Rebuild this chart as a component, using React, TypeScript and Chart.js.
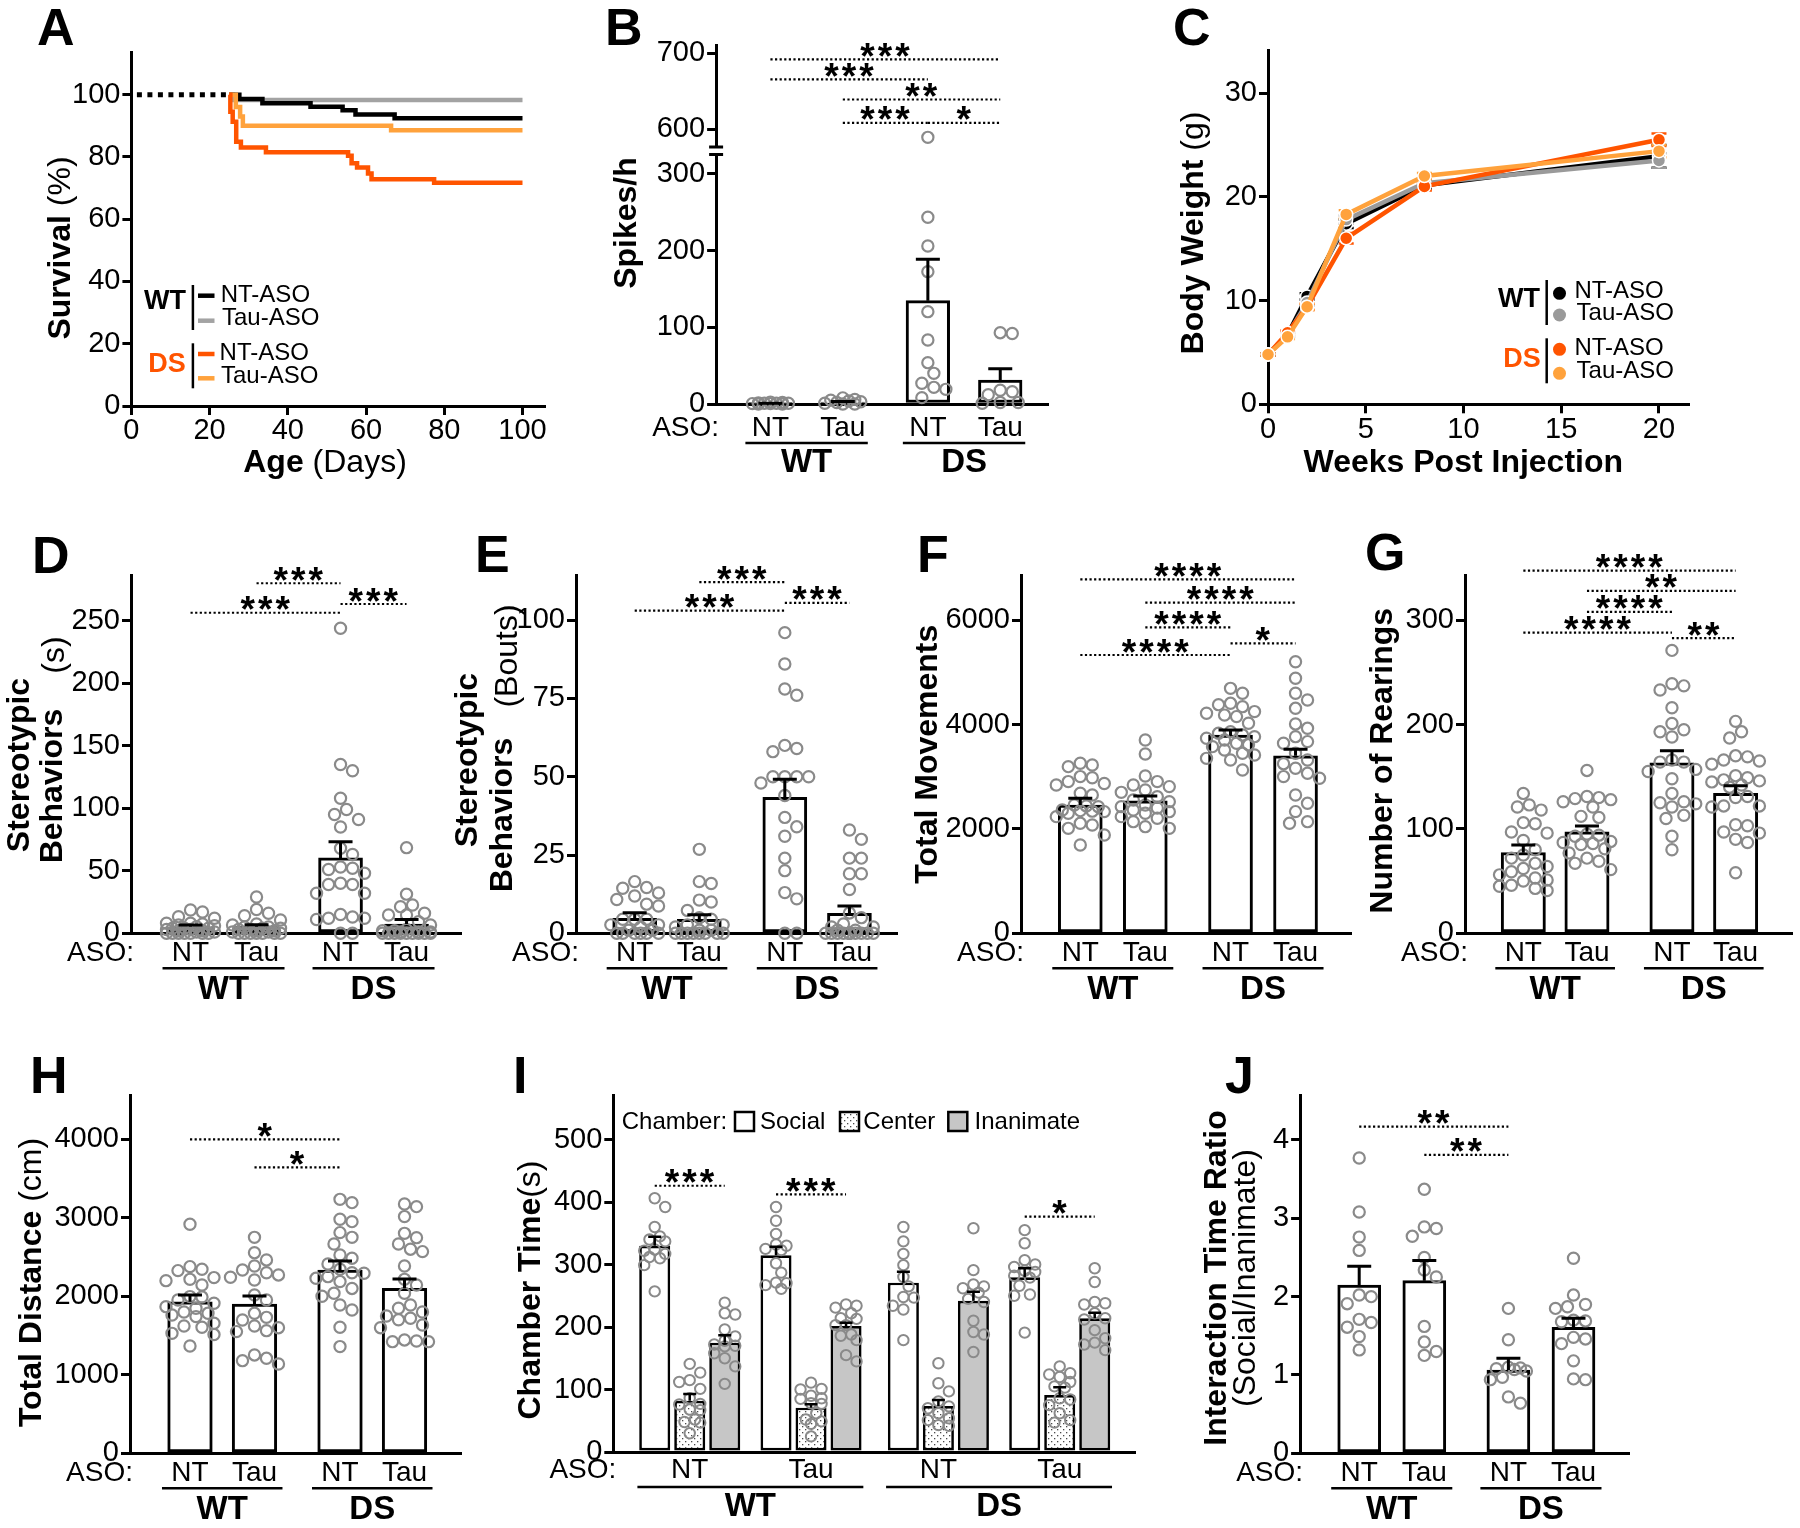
import React, { useEffect, useRef } from 'react';
import { Chart, registerables } from 'chart.js';

Chart.register(...registerables);

const FONT = '"Liberation Sans", Arial, Helvetica, sans-serif';
const BLK = '#000000';
const PT_GRAY = '#8a8a8a';
const COL_WT_NT = '#000000';
const COL_WT_TAU = '#a3a3a3';
const COL_DS_NT = '#ff5400';
const COL_DS_TAU = '#ffa23c';
const INAN_FILL = '#c6c6c6';
const TICK_PX = 29;
const LABEL_PX = 28;
const GROUP_PX = 33;
const TITLE_PX = 32;
const LEGEND_PX = 24;
const LETTER_PX = 52;

// ======================= DATA =======================
const ASO_LABELS = ['NT', 'Tau', 'NT', 'Tau'];
const GENOTYPES = ['WT', 'DS'];
const LEGEND_ENTRIES = ['NT-ASO', 'Tau-ASO'];
const CHAMBERS = ['Social', 'Center', 'Inanimate'];

// ---- A: survival (Kaplan-Meier) ----
const A_LEAD_DAYS = [0, 25];
const A_LEAD_SURV = [100, 100];
const A_WT_NT_DAYS = [25, 27.6, 33.5, 45.8, 54.0, 57.3, 67.3, 100];
const A_WT_NT_SURV = [100, 98.6, 97.2, 96.1, 95.0, 93.6, 92.4, 92.4];
const A_WT_TAU_DAYS = [25, 26.0, 100];
const A_WT_TAU_SURV = [100, 98.3, 98.3];
const A_DS_NT_DAYS = [25, 25.3, 25.9, 26.8, 28.0, 34.4, 55.4, 56.3, 57.7, 60.5, 61.4, 77.4, 100];
const A_DS_NT_SURV = [100, 94.5, 91.3, 84.9, 83.0, 81.5, 80.4, 78.0, 76.6, 74.7, 72.8, 71.7, 71.7];
const A_DS_TAU_DAYS = [25, 26.7, 27.8, 28.5, 66.4, 100];
const A_DS_TAU_SURV = [100, 96.0, 93.0, 90.0, 88.6, 88.6];
const A_X_TICKS = [0, 20, 40, 60, 80, 100];
const A_Y_TICKS = [0, 20, 40, 60, 80, 100];

// ---- B: spikes/h ----
const B_MEAN = [0.6, 2.5, 134.8, 31.3];
const B_SEM = [0.3, 0.8, 53.9, 14.7];
const B_PTS = [
  [0, 0.5, 1, 1.5, 2, 0, 1, 0.5, 2.5, 1],
  [8, 5, 3, 6, 2, 0, 1, 4, 0],
  [589, 243.5, 206, 172.6, 120.4, 83.5, 53.9, 40, 27, 21.7, 19.1, 8.3],
  [93, 92, 18, 16, 12, 2, 2, 1],
];
const B_TICKS_LOW = [0, 100, 200, 300];
const B_TICKS_HIGH = [600, 700];
const B_SIG = [[0, 3, 692, '***'], [0, 2, 665.5, '***'], [1, 3, 639, '**'], [1, 2, 608, '***'], [2, 3, 608, '*']];

// ---- C: body weight ----
const C_WEEKS = [0, 1, 2, 4, 8, 20];
const C_WT_NT = [4.8, 6.7, 10.4, 17.4, 21.1, 23.9];
const C_WT_TAU = [4.8, 6.7, 9.8, 17.8, 21.3, 23.5];
const C_DS_NT = [4.8, 6.9, 9.4, 16.0, 21.0, 25.5];
const C_DS_TAU = [4.8, 6.5, 9.4, 18.3, 22.0, 24.4];
const C_WT_NT_SEM = [0.1, 0.2, 0.3, 0.4, 0.3, 1.1];
const C_WT_TAU_SEM = [0.1, 0.2, 0.3, 0.4, 0.3, 0.7];
const C_DS_NT_SEM = [0.1, 0.2, 0.3, 0.5, 0.4, 0.6];
const C_DS_TAU_SEM = [0.1, 0.2, 0.3, 0.4, 0.3, 0.6];
const C_X_TICKS = [0, 5, 10, 15, 20];
const C_Y_TICKS = [0, 10, 20, 30];

// ---- D: stereotypic behaviors (s) ----
const D_MEAN = [5.2, 5.3, 60.3, 7.4];
const D_SEM = [1.4, 1.5, 13, 3.6];
const D_PTS = [
  [18.6, 17, 13.3, 12, 8, 7.5, 8, 6.6, 5.3, 4, 4, 4, 6, 3, 2, 1, 0, 0, 0, 0, 0, 0, 0, 1, 2, 3],
  [29, 19, 16, 14, 10.6, 7.5, 6.6, 5, 5, 4, 4, 3, 3, 2, 2, 1, 1, 0, 0, 0, 0, 0, 0, 0],
  [244, 135, 130, 108, 99, 95, 91, 85, 68, 63, 51, 52, 53, 48, 39, 39, 40, 32, 32, 12, 15, 13, 12, 11, 0, 0],
  [68.5, 31.3, 22.6, 21.3, 16, 14.6, 14.6, 9.3, 6.6, 3, 2, 2, 1, 1, 1, 0, 0, 0, 0, 0, 0, 0, 0, 0],
];
const D_TICKS = [0, 50, 100, 150, 200, 250];
const D_SIG = [[1, 2, 280, '***'], [0, 2, 256.4, '***'], [2, 3, 263.4, '***']];

// ---- E: stereotypic behaviors (bouts) ----
const E_MEAN = [4.8, 4.5, 43.4, 6.4];
const E_SEM = [1.8, 1.4, 5.8, 2.3];
const E_PTS = [
  [16.5, 14.6, 14.4, 12.9, 11.9, 10.8, 9.3, 8.7, 4.5, 4.5, 4.5, 2.7, 2.7, 2, 1, 1, 0, 0, 0, 0, 0, 0],
  [26.8, 16.5, 15.9, 10.6, 10, 7.3, 5, 4.5, 2.7, 2.7, 2, 1, 1, 0, 0, 0, 0, 0, 0, 0, 0],
  [96, 86, 78, 76, 60, 59, 58, 50, 50, 50, 50, 48, 44, 37, 34, 31, 24, 20, 13, 11, 0, 0],
  [33, 30, 24, 24, 19, 19, 14, 6.5, 5, 3, 2, 2, 1, 1, 0, 0, 0, 0, 0, 0, 0, 0, 0, 0, 0, 0],
];
const E_TICKS = [0, 25, 50, 75, 100];
const E_SIG = [[1, 2, 112.1, '***'], [0, 2, 103, '***'], [2, 3, 105.5, '***']];

// ---- F: total movements ----
const F_MEAN = [2458, 2540, 3799, 3402];
const F_SEM = [128, 90, 96, 123];
const F_PTS = [
  [3257, 3225, 3193, 3002, 2980, 2906, 2870, 2842, 2682, 2650, 2458, 2440, 2426, 2363, 2350, 2340, 2331, 2299, 2235, 2107, 2075, 2011, 1884, 1692],
  [3703, 3435, 3013, 2906, 2842, 2810, 2746, 2700, 2618, 2554, 2522, 2458, 2426, 2400, 2363, 2330, 2299, 2235, 2203, 2139, 2043, 2011],
  [4693, 4598, 4406, 4380, 4342, 4247, 4215, 4180, 4151, 4023, 3863, 3831, 3800, 3767, 3736, 3704, 3640, 3610, 3576, 3512, 3448, 3416, 3352, 3320, 3129],
  [5203, 4885, 4598, 4470, 4310, 4011, 3927, 3767, 3672, 3640, 3448, 3320, 3250, 3161, 3065, 3002, 2970, 2650, 2490, 2331, 2139, 2107],
];
const F_TICKS = [0, 2000, 4000, 6000];
const F_SIG = [[0, 3, 6782, '****'], [1, 3, 6333, '****'], [1, 2, 5862, '****'], [0, 2, 5331, '****'], [2, 3, 5556, '*']];

// ---- G: number of rearings ----
const G_MEAN = [77.2, 97.3, 163.4, 134.1];
const G_SEM = [7.4, 5.5, 11.5, 7.3];
const G_PTS = [
  [134, 123, 121, 118, 106, 105, 97, 96, 89, 80, 75, 72, 67, 64, 62, 59, 56, 53, 51, 50, 46, 45, 43, 41],
  [156, 131, 130, 129, 128, 126, 121, 112, 111, 95, 94, 93, 88, 87, 86, 85, 81, 77, 72, 69, 67, 61],
  [271, 239, 237, 233, 216, 201, 195, 193, 188, 166, 164, 164, 157, 155, 148, 134, 126, 125, 124, 121, 113, 110, 93, 80],
  [203, 193, 187, 170, 169, 166, 165, 162, 151, 149, 147, 146, 145, 142, 140, 131, 130, 122, 122, 121, 104, 103, 97, 96, 90, 87, 58],
];
const G_TICKS = [0, 100, 200, 300];
const G_SIG = [[0, 3, 347.3, '****'], [1, 3, 327.9, '**'], [1, 2, 307.8, '****'], [0, 2, 288, '****'], [2, 3, 282.8, '**']];

// ---- H: total distance ----
const H_MEAN = [1931, 1902, 2335, 2102];
const H_SEM = [86, 102, 115, 118];
const H_PTS = [
  [2917, 2378, 2344, 2327, 2238, 2216, 2199, 2144, 1996, 1990, 1953, 1911, 1868, 1847, 1800, 1783, 1762, 1741, 1656, 1622, 1605, 1528, 1512, 1367],
  [2751, 2556, 2463, 2386, 2335, 2300, 2272, 2242, 2208, 2017, 1953, 1783, 1732, 1698, 1622, 1600, 1562, 1550, 1253, 1210, 1180, 1138],
  [3235, 3193, 2981, 2951, 2811, 2751, 2666, 2526, 2484, 2412, 2344, 2300, 2293, 2250, 2229, 2187, 2100, 2038, 2000, 1889, 1826, 1605, 1359],
  [3176, 3142, 3015, 2802, 2747, 2666, 2600, 2569, 2386, 2216, 2144, 2038, 1889, 1847, 1800, 1749, 1720, 1700, 1635, 1600, 1444, 1430, 1422, 1422],
];
const H_TICKS = [0, 1000, 2000, 3000, 4000];
const H_SIG = [[0, 2, 4000, '*'], [1, 2, 3643, '*']];

// ---- I: chamber time ----
const I_SOCIAL_MEAN = [330, 314.7, 271, 279.5];
const I_SOCIAL_SEM = [14.5, 13.8, 17.5, 14.5];
const I_CENTER_MEAN = [82, 71, 73.6, 91.2];
const I_CENTER_SEM = [10.8, 5.3, 9.6, 12.3];
const I_INAN_MEAN = [175, 201.6, 242, 214];
const I_INAN_SEM = [12, 5.4, 14.5, 9];
const I_SOCIAL_PTS = [
  [406, 392, 360, 345, 340, 337, 324, 322, 317, 312, 310, 299, 257],
  [392, 370, 349, 332, 330, 325, 323, 302, 287, 271, 270, 267, 261],
  [360, 337, 317, 299, 280, 265, 248, 247, 234, 228, 179],
  [355, 334, 307, 300, 296, 290, 288, 282, 279, 266, 252, 250, 191],
];
const I_CENTER_PTS = [
  [141, 127, 115, 112, 101, 86, 77, 76, 68, 67, 52, 48, 47, 30],
  [111, 101, 100, 90, 86, 85, 78, 77, 62, 52, 49, 45, 25],
  [142, 110, 97, 81, 73, 70, 62, 54, 51, 43, 42],
  [137, 126, 124, 120, 112, 105, 103, 86, 84, 75, 62, 51, 47],
];
const I_INAN_PTS = [
  [239, 222, 220, 196, 185, 178, 172, 170, 169, 158, 150, 137, 109],
  [236, 234, 231, 222, 214, 213, 203, 203, 188, 186, 179, 155, 145],
  [358, 291, 268, 265, 262, 255, 245, 240, 210, 192, 188, 160],
  [294, 272, 240, 238, 236, 222, 214, 212, 195, 182, 175, 172, 163],
];
const I_TICKS = [0, 100, 200, 300, 400, 500];
const I_SIG = [[0, 0, 0, 2, 426, '***'], [1, 0, 1, 2, 412.3, '***'], [3, 0, 3, 2, 376.5, '*']];

// ---- J: interaction time ratio ----
const J_MEAN = [2.149, 2.204, 1.063, 1.608];
const J_SEM = [0.24, 0.256, 0.15, 0.115];
const J_PTS = [
  [3.77, 3.08, 2.76, 2.59, 2.02, 2.0, 1.91, 1.71, 1.67, 1.61, 1.49, 1.32],
  [3.37, 2.89, 2.87, 2.77, 2.5, 2.34, 2.25, 1.62, 1.42, 1.3, 1.25],
  [1.85, 1.45, 1.1, 1.09, 1.08, 1.07, 1.05, 0.97, 0.94, 0.72, 0.64],
  [2.49, 2.02, 1.9, 1.87, 1.85, 1.7, 1.69, 1.68, 1.48, 1.46, 1.4, 1.18, 0.95, 0.94],
];
const J_TICKS = [0, 1, 2, 3, 4];
const J_SIG = [[0, 2, 4.17, '**'], [1, 2, 3.81, '**']];

// ======================= HELPERS =======================
const BASE_OPTS: any = {
  responsive: false,
  maintainAspectRatio: false,
  animation: false,
  devicePixelRatio: 1,
  events: [],
  plugins: { legend: { display: false }, tooltip: { enabled: false }, title: { display: false } },
};

const PT: any = {
  pointStyle: 'circle', pointRadius: 5.6, radius: 5.6, pointBorderWidth: 2.2, borderWidth: 2.2,
  pointBorderColor: PT_GRAY, borderColor: PT_GRAY, pointBackgroundColor: 'rgba(0,0,0,0)',
  backgroundColor: 'rgba(0,0,0,0)', showLine: false, clip: false,
};

function yAxis(min: number, max: number, ticks: number[], width: number, extra: any = {}) {
  return {
    type: 'linear', position: 'left', min, max, beginAtZero: false, offset: false,
    afterBuildTicks: (s: any) => { s.ticks = ticks.map((v) => ({ value: v })); },
    afterFit: (s: any) => { s.width = width; },
    grid: { display: true, drawOnChartArea: false, drawTicks: true, tickLength: 9, tickWidth: 3, tickColor: BLK, color: BLK, lineWidth: 3 },
    border: { display: true, width: 3, color: BLK },
    ticks: { color: BLK, font: { family: FONT, size: TICK_PX }, padding: 2, autoSkip: false, callback: (v: any) => String(v) },
    ...extra,
  };
}

function xBare(min: number, max: number, height: number) {
  return {
    type: 'linear', position: 'bottom', min, max, offset: false,
    afterBuildTicks: (s: any) => { s.ticks = []; },
    afterFit: (s: any) => { s.height = height; },
    grid: { display: false, drawTicks: false },
    border: { display: true, width: 3, color: BLK },
    ticks: { display: false },
  };
}

function xTicks(min: number, max: number, ticks: number[], height: number) {
  return {
    type: 'linear', position: 'bottom', min, max, offset: false,
    afterBuildTicks: (s: any) => { s.ticks = ticks.map((v) => ({ value: v })); },
    afterFit: (s: any) => { s.height = height; },
    grid: { display: true, drawOnChartArea: false, drawTicks: true, tickLength: 9, tickWidth: 3, tickColor: BLK, color: BLK, lineWidth: 3 },
    border: { display: true, width: 3, color: BLK },
    ticks: { color: BLK, font: { family: FONT, size: TICK_PX }, padding: -1, autoSkip: false, maxRotation: 0, callback: (v: any) => String(v) },
  };
}

function setFont(ctx: any, size: number, bold = false) {
  ctx.font = `${bold ? 'bold ' : ''}${size}px ${FONT}`;
}
function text(ctx: any, s: string, x: number, y: number, size: number, bold = false, align = 'center', color = BLK) {
  setFont(ctx, size, bold);
  ctx.fillStyle = color;
  ctx.textAlign = align;
  ctx.textBaseline = 'middle';
  ctx.fillText(s, x, y);
}
function rich(ctx: any, segs: any[], cx: number, cy: number, size: number, rotated: boolean) {
  ctx.save();
  ctx.translate(cx, cy);
  if (rotated) ctx.rotate(-Math.PI / 2);
  const widths = segs.map(([s, b]: any) => { setFont(ctx, size, b); return ctx.measureText(s).width; });
  let x = -widths.reduce((a: number, w: number) => a + w, 0) / 2;
  ctx.fillStyle = BLK;
  ctx.textAlign = 'left';
  ctx.textBaseline = 'middle';
  segs.forEach(([s, b]: any, i: number) => { setFont(ctx, size, b); ctx.fillText(s, x, 0); x += widths[i]; });
  ctx.restore();
}
function panelLetter(ctx: any, s: string, x: number, yBase: number) {
  setFont(ctx, LETTER_PX, true);
  ctx.fillStyle = BLK;
  ctx.textAlign = 'left';
  ctx.textBaseline = 'alphabetic';
  ctx.fillText(s, x, yBase);
}
function hline(ctx: any, x1: number, x2: number, y: number, w: number, color = BLK) {
  ctx.save();
  ctx.strokeStyle = color; ctx.lineWidth = w; ctx.setLineDash([]);
  ctx.beginPath(); ctx.moveTo(x1, y); ctx.lineTo(x2, y); ctx.stroke();
  ctx.restore();
}
function vline(ctx: any, x: number, y1: number, y2: number, w: number, color = BLK) {
  ctx.save();
  ctx.strokeStyle = color; ctx.lineWidth = w; ctx.setLineDash([]);
  ctx.beginPath(); ctx.moveTo(x, y1); ctx.lineTo(x, y2); ctx.stroke();
  ctx.restore();
}

// asterisk glyph sized to ~14px wide, centred 9px above the comparison line
let STAR_SIZE = 0;
function sigLine(ctx: any, x1: number, x2: number, y: number, stars: string) {
  ctx.save();
  ctx.strokeStyle = BLK; ctx.lineWidth = 2.2; ctx.setLineDash([2.2, 2.4]);
  ctx.beginPath(); ctx.moveTo(x1, y); ctx.lineTo(x2, y); ctx.stroke();
  ctx.restore();
  if (!STAR_SIZE) {
    setFont(ctx, 100, true);
    const m0 = ctx.measureText('*');
    const w0 = (m0.actualBoundingBoxRight || 0) + (m0.actualBoundingBoxLeft || 0);
    STAR_SIZE = w0 > 1 ? (100 * 14.5) / w0 : 40;
  }
  setFont(ctx, STAR_SIZE, true);
  const m = ctx.measureText('*');
  const asc = m.actualBoundingBoxAscent || STAR_SIZE * 0.72;
  const desc = m.actualBoundingBoxDescent || -STAR_SIZE * 0.42;
  const glyphCenterFromBase = (desc - asc) / 2;
  const hCenter = ((m.actualBoundingBoxRight || 0) - (m.actualBoundingBoxLeft || 0)) / 2;
  const baseY = y - 9.5 - glyphCenterFromBase;
  const n = stars.length, pitch = 17.5, cx = (x1 + x2) / 2;
  ctx.fillStyle = BLK; ctx.textAlign = 'left'; ctx.textBaseline = 'alphabetic';
  for (let k = 0; k < n; k++) ctx.fillText('*', cx + (k - (n - 1) / 2) * pitch - hCenter, baseY);
}
function errBars(chart: any, metaIdx: number, means: number[], sems: number[], yScale: any, capW: number, lw: number, color = BLK) {
  const ctx = chart.ctx;
  const meta = chart.getDatasetMeta(metaIdx);
  ctx.save();
  ctx.strokeStyle = color; ctx.lineWidth = lw; ctx.setLineDash([]);
  meta.data.forEach((el: any, i: number) => {
    const x = el.x;
    const y0 = yScale.getPixelForValue(means[i]);
    const y1 = yScale.getPixelForValue(means[i] + sems[i]);
    ctx.beginPath();
    ctx.moveTo(x, y0); ctx.lineTo(x, y1);
    ctx.moveTo(x - capW / 2, y1); ctx.lineTo(x + capW / 2, y1);
    ctx.stroke();
  });
  ctx.restore();
}

// simple beeswarm layout (pixel space) -> horizontal offsets in px
function swarm(vals: number[], pxPerY: number, diam: number, maxHalf: number): number[] {
  const order = vals.map((_, i) => i).sort((a, b) => vals[b] - vals[a]);
  const step = diam / 2;
  const cands: number[] = [0];
  for (let k = 1; k * step <= maxHalf + 0.01; k++) cands.push(k * step, -k * step);
  const placed: { x: number; y: number }[] = [];
  const out = new Array(vals.length).fill(0);
  for (const i of order) {
    const y = vals[i] * pxPerY;
    let best = 0, bestD = -1;
    for (const c of cands) {
      let dmin = Infinity;
      for (const p of placed) { const d = Math.hypot(p.x - c, p.y - y); if (d < dmin) dmin = d; }
      if (dmin >= diam) { best = c; bestD = dmin; break; }
      if (dmin > bestD + 0.01) { bestD = dmin; best = c; }
    }
    placed.push({ x: best, y });
    out[i] = best;
  }
  return out;
}

function makeDotPattern() {
  const tile = document.createElement('canvas');
  tile.width = 6; tile.height = 6;
  const g = tile.getContext('2d') as any;
  g.fillStyle = '#ffffff'; g.fillRect(0, 0, 6, 6);
  g.fillStyle = '#4a4a4a';
  g.fillRect(1, 1, 1.3, 1.3);
  g.fillRect(4, 4, 1.3, 1.3);
  const c2 = document.createElement('canvas').getContext('2d') as any;
  return c2.createPattern(tile, 'repeat');
}

function pads(canvas: number[], plot: number[]) {
  const [cl, ct, cr, cb] = canvas;
  const [pl, pt, pr, pb] = plot;
  return { L: pl - cl, T: pt - ct, R: cr - pr, B: cb - pb };
}

// ======================= LAYOUT (style) =======================
const BAR_PANELS: any = {
  B: {
    letter: ['B', 605, 45], canvas: [560, 0, 1120, 500], plot: [716.1, 45, 1048.9, 404],
    pos: [0, 1, 2.175, 3.175], xMin: -0.75, xMax: 3.847, barW: 43.6, spread: 23,
    yMax: 326, yTicks: B_TICKS_LOW,
    split: { lowMax: 326, hiMin: 567, hiMax: 711, hiTicks: B_TICKS_HIGH, wLow: 250, wHigh: 109 },
    means: B_MEAN, sems: B_SEM, pts: B_PTS, sig: B_SIG,
    row: { aso: 24, line: 39, grp: 59, ext: 25 },
    titles: [{ segs: [['Spikes/h', true]], x: 627.5, y: 223, rot: true }],
  },
  D: {
    letter: ['D', 32, 573], canvas: [0, 515, 470, 1025], plot: [131, 575, 461.7, 933.3],
    pos: [0, 1, 2.273, 3.273], xMin: -0.902, xMax: 4.109, barW: 44, spread: 28,
    yMax: 286.6, yTicks: D_TICKS, means: D_MEAN, sems: D_SEM, pts: D_PTS, sig: D_SIG,
    row: { aso: 20, line: 35, grp: 57, ext: 28 },
    titles: [
      { segs: [['Stereotypic', true]], x: 20, y: 765, rot: true },
      { segs: [['Behaviors', true]], x: 53, y: 786, rot: true },
      { segs: [['(s)', false]], x: 55, y: 655, rot: true },
    ],
  },
  E: {
    letter: ['E', 475, 572], canvas: [440, 515, 905, 1025], plot: [576, 575, 899, 933.3],
    pos: [0, 1, 2.323, 3.323], xMin: -0.908, xMax: 4.062, barW: 44, spread: 28,
    yMax: 114.4, yTicks: E_TICKS, means: E_MEAN, sems: E_SEM, pts: E_PTS, sig: E_SIG,
    row: { aso: 20, line: 35, grp: 57, ext: 28 },
    titles: [
      { segs: [['Stereotypic', true]], x: 468.3, y: 760, rot: true },
      { segs: [['Behaviors', true]], x: 503.3, y: 815, rot: true },
      { segs: [['(Bouts)', false]], x: 508.3, y: 656, rot: true },
    ],
  },
  F: {
    letter: ['F', 917, 572], canvas: [900, 515, 1360, 1025], plot: [1021, 575, 1351.7, 933.3],
    pos: [0, 1, 2.311, 3.311], xMin: -0.912, xMax: 4.175, barW: 44, spread: 28,
    yMax: 6864, yTicks: F_TICKS, means: F_MEAN, sems: F_SEM, pts: F_PTS, sig: F_SIG,
    row: { aso: 20, line: 35, grp: 57, ext: 28 },
    titles: [{ segs: [['Total Movements', true]], x: 928.3, y: 754.2, rot: true }],
  },
  G: {
    letter: ['G', 1365, 570], canvas: [1355, 515, 1800, 1025], plot: [1465, 575, 1795, 933.3],
    pos: [0, 1, 2.335, 3.335], xMin: -0.916, xMax: 4.224, barW: 44.3, spread: 28,
    yMax: 343.2, yTicks: G_TICKS, means: G_MEAN, sems: G_SEM, pts: G_PTS, sig: G_SIG,
    row: { aso: 20, line: 35, grp: 57, ext: 28 },
    titles: [{ segs: [['Number of Rearings', true]], x: 1383.3, y: 760.8, rot: true }],
  },
  H: {
    letter: ['H', 30, 1093], canvas: [0, 1035, 500, 1528], plot: [130, 1095, 461, 1453.3],
    pos: [0, 1, 2.326, 3.326], xMin: -0.93, xMax: 4.202, barW: 44.6, spread: 28,
    yMax: 4564, yTicks: H_TICKS, means: H_MEAN, sems: H_SEM, pts: H_PTS, sig: H_SIG,
    row: { aso: 20, line: 35, grp: 57, ext: 28 },
    titles: [{ segs: [['Total Distance', true], [' (cm)', false]], x: 31.7, y: 1282.5, rot: true }],
  },
  J: {
    letter: ['J', 1225, 1093], canvas: [1190, 1035, 1800, 1528], plot: [1300.1, 1095, 1629.6, 1453.3],
    pos: [0, 1, 2.292, 3.292], xMin: -0.908, xMax: 4.154, barW: 43, spread: 21,
    yMax: 4.574, yTicks: J_TICKS, means: J_MEAN, sems: J_SEM, pts: J_PTS, sig: J_SIG,
    row: { aso: 20, line: 35, grp: 57, ext: 28 },
    titles: [
      { segs: [['Interaction Time Ratio', true]], x: 1217, y: 1278, rot: true },
      { segs: [['(Social/Inanimate)', false]], x: 1246.4, y: 1278, rot: true },
    ],
  },
};

const GEOM_A = { canvas: [0, 0, 560, 500], plot: [131.4, 52, 544.6, 406] };
const GEOM_C = { canvas: [1130, 0, 1800, 500], plot: [1268, 50.7, 1688.5, 404.3] };
const GEOM_I = { canvas: [495, 1035, 1190, 1528], plot: [613.3, 1095, 1135.4, 1452], pos: [0, 1, 2.05, 3.05], xMin: -0.63, xMax: 3.674, yMax: 571.2 };

// ======================= BUILDERS =======================
function drawAsoRow(ctx: any, plotLeft: number, axisY: number, labelXs: number[], spans: number[][], row: any) {
  text(ctx, 'ASO:', plotLeft + 3, axisY + row.aso, LABEL_PX, false, 'right');
  labelXs.forEach((x, i) => text(ctx, ASO_LABELS[i], x, axisY + row.aso, LABEL_PX));
  spans.forEach(([x1, x2], g) => {
    hline(ctx, x1, x2, axisY + row.line, 2.5);
    text(ctx, GENOTYPES[g], (x1 + x2) / 2, axisY + row.grp, GROUP_PX, true);
  });
}

function makeBarChart(cfg: any, ox: number, oy: number) {
  const { L, T, R, B } = pads(cfg.canvas, cfg.plot);
  const [pl, pt, pr, pb] = cfg.plot;
  const pxX = (pr - pl) / (cfg.xMax - cfg.xMin);
  const pxY = cfg.split
    ? ((pb - pt) * cfg.split.wLow) / (cfg.split.wLow + cfg.split.wHigh) / cfg.split.lowMax
    : (pb - pt) / cfg.yMax;
  const low: any[] = [];
  const high: any[] = [];
  cfg.pts.forEach((vals: number[], i: number) => {
    const off = swarm(vals, pxY, 12, cfg.spread);
    vals.forEach((v, k) => {
      const p = { x: cfg.pos[i] + off[k] / pxX, y: v };
      if (cfg.split && v > cfg.split.lowMax) high.push(p);
      else low.push(p);
    });
  });
  const datasets: any[] = [
    {
      type: 'bar', data: cfg.means.map((m: number, i: number) => ({ x: cfg.pos[i], y: m })),
      backgroundColor: '#ffffff', borderColor: BLK, borderWidth: 3, borderSkipped: false,
      barThickness: cfg.barW, order: 3, yAxisID: 'y',
    },
    { type: 'scatter', data: low, ...PT, order: 1, yAxisID: 'y' },
  ];
  const scales: any = { x: xBare(cfg.xMin, cfg.xMax, B), y: yAxis(0, cfg.yMax, cfg.yTicks, L) };
  if (cfg.split) {
    datasets.push({ type: 'scatter', data: high, ...PT, order: 0, yAxisID: 'y2' });
    scales.y = yAxis(0, cfg.split.lowMax, cfg.yTicks, L, { stack: 'brk', stackWeight: cfg.split.wLow });
    scales.y2 = yAxis(cfg.split.hiMin, cfg.split.hiMax, cfg.split.hiTicks, L, { stack: 'brk', stackWeight: cfg.split.wHigh });
  }
  return {
    type: 'bar',
    data: { datasets },
    options: { ...BASE_OPTS, layout: { padding: { left: 0, top: T, right: R, bottom: 0 } }, scales },
    plugins: [
      {
        id: 'barAnnot',
        afterDatasetsDraw(chart: any) {
          errBars(chart, 0, cfg.means, cfg.sems, chart.scales.y, 24, 3);
        },
        afterDraw(chart: any) {
          const ctx = chart.ctx;
          const meta = chart.getDatasetMeta(0);
          const cx = meta.data.map((el: any) => el.x + ox);
          const sigScale = cfg.split ? chart.scales.y2 : chart.scales.y;
          ctx.save();
          ctx.translate(-ox, -oy);
          if (cfg.split) {
            const ys = chart.scales.y;
            const ax = ys.right + ox;
            const yb = ys.top + oy;
            ctx.fillStyle = '#ffffff';
            ctx.fillRect(ax - 3, yb - 6, 6, 5.5);
            hline(ctx, ax - 7, ax + 7, yb - 7, 3);
            hline(ctx, ax - 7, ax + 7, yb + 0.5, 3);
          }
          cfg.sig.forEach(([a, b, yv, st]: any) => {
            sigLine(ctx, cx[a], cx[b], sigScale.getPixelForValue(yv) + oy, st);
          });
          const axisY = chart.chartArea.bottom + oy;
          const ext = cfg.row.ext;
          drawAsoRow(ctx, chart.chartArea.left + ox, axisY, cx, [[cx[0] - ext, cx[1] + ext], [cx[2] - ext, cx[3] + ext]], cfg.row);
          cfg.titles.forEach((t: any) => rich(ctx, t.segs, t.x, t.y, TITLE_PX, t.rot));
          panelLetter(ctx, cfg.letter[0], cfg.letter[1], cfg.letter[2]);
          ctx.restore();
        },
      },
    ],
  };
}

function makeA(ox: number, oy: number) {
  const { L, T, R, B } = pads(GEOM_A.canvas, GEOM_A.plot);
  const mk = (xs: number[], ys: number[]) => xs.map((x, i) => ({ x, y: ys[i] }));
  const line = (data: any, color: string, order: number, extra: any = {}) => ({
    data, borderColor: color, backgroundColor: color, borderWidth: 4.5, pointRadius: 0,
    stepped: true, fill: false, order, borderCapStyle: 'butt', borderJoinStyle: 'miter', ...extra,
  });
  return {
    type: 'line',
    data: {
      datasets: [
        line(mk(A_DS_NT_DAYS, A_DS_NT_SURV), COL_DS_NT, 0),
        line(mk(A_DS_TAU_DAYS, A_DS_TAU_SURV), COL_DS_TAU, 1),
        line(mk(A_WT_NT_DAYS, A_WT_NT_SURV), COL_WT_NT, 2),
        line(mk(A_WT_TAU_DAYS, A_WT_TAU_SURV), COL_WT_TAU, 3),
        line(mk(A_LEAD_DAYS, A_LEAD_SURV), BLK, 4, { stepped: false, borderDash: [5, 5.5], borderDashOffset: 5, borderWidth: 5 }),
      ],
    },
    options: {
      ...BASE_OPTS,
      layout: { padding: { left: 0, top: T, right: R, bottom: 0 } },
      scales: { x: xTicks(0, 105.65, A_X_TICKS, B), y: yAxis(0, 113.7, A_Y_TICKS, L) },
    },
    plugins: [
      {
        id: 'annA',
        afterDraw(chart: any) {
          const ctx = chart.ctx;
          ctx.save();
          ctx.translate(-ox, -oy);
          rich(ctx, [['Survival', true], [' (%)', false]], 60.7, 248, TITLE_PX, true);
          rich(ctx, [['Age', true], [' (Days)', false]], 325, 463, TITLE_PX, false);
          // legend
          text(ctx, GENOTYPES[0], 165, 301.7, 27, true);
          vline(ctx, 192.9, 285, 330, 2.5);
          hline(ctx, 198, 214.5, 295.7, 4.5, COL_WT_NT);
          hline(ctx, 198, 214.5, 320.7, 4.5, COL_WT_TAU);
          text(ctx, LEGEND_ENTRIES[0], 220.7, 295, LEGEND_PX, false, 'left');
          text(ctx, LEGEND_ENTRIES[1], 222, 318.3, LEGEND_PX, false, 'left');
          text(ctx, GENOTYPES[1], 167, 365, 27, true, 'center', COL_DS_NT);
          vline(ctx, 192.9, 343.3, 388.3, 2.5);
          hline(ctx, 198, 214.5, 354, 4.5, COL_DS_NT);
          hline(ctx, 198, 214.5, 378.3, 4.5, COL_DS_TAU);
          text(ctx, LEGEND_ENTRIES[0], 219.6, 353.3, LEGEND_PX, false, 'left');
          text(ctx, LEGEND_ENTRIES[1], 221, 376.7, LEGEND_PX, false, 'left');
          panelLetter(ctx, 'A', 37, 45);
          ctx.restore();
        },
      },
    ],
  };
}

function makeC(ox: number, oy: number) {
  const { L, T, R, B } = pads(GEOM_C.canvas, GEOM_C.plot);
  const series = [
    { vals: C_DS_TAU, sem: C_DS_TAU_SEM, color: COL_DS_TAU },
    { vals: C_DS_NT, sem: C_DS_NT_SEM, color: COL_DS_NT },
    { vals: C_WT_TAU, sem: C_WT_TAU_SEM, color: '#9a9a9a' },
    { vals: C_WT_NT, sem: C_WT_NT_SEM, color: COL_WT_NT },
  ];
  return {
    type: 'line',
    data: {
      datasets: series.map((s, k) => ({
        data: C_WEEKS.map((w, i) => ({ x: w, y: s.vals[i] })),
        borderColor: s.color, backgroundColor: s.color, pointBackgroundColor: s.color,
        pointBorderColor: '#ffffff', pointBorderWidth: 1.5, pointRadius: 6.5, borderWidth: 4.5,
        order: k, fill: false, tension: 0, clip: false,
      })),
    },
    options: {
      ...BASE_OPTS,
      layout: { padding: { left: 0, top: T, right: R, bottom: 0 } },
      scales: { x: xTicks(0, 21.51, C_X_TICKS, B), y: yAxis(0, 34.08, C_Y_TICKS, L) },
    },
    plugins: [
      {
        id: 'annC',
        beforeDatasetsDraw(chart: any) {
          const ctx = chart.ctx;
          const xs = chart.scales.x, ys = chart.scales.y;
          ctx.save();
          [...series].reverse().forEach((s) => {
            ctx.strokeStyle = s.color; ctx.lineWidth = 2.5;
            C_WEEKS.forEach((w, i) => {
              const x = xs.getPixelForValue(w);
              const y1 = ys.getPixelForValue(s.vals[i] - s.sem[i]);
              const y2 = ys.getPixelForValue(s.vals[i] + s.sem[i]);
              ctx.beginPath();
              ctx.moveTo(x, y1); ctx.lineTo(x, y2);
              ctx.moveTo(x - 7.5, y1); ctx.lineTo(x + 7.5, y1);
              ctx.moveTo(x - 7.5, y2); ctx.lineTo(x + 7.5, y2);
              ctx.stroke();
            });
          });
          ctx.restore();
        },
        afterDraw(chart: any) {
          const ctx = chart.ctx;
          ctx.save();
          ctx.translate(-ox, -oy);
          rich(ctx, [['Body Weight', true], [' (g)', false]], 1194, 233, TITLE_PX, true);
          rich(ctx, [['Weeks Post Injection', true]], 1463.3, 463, TITLE_PX, false);
          const dot = (x: number, y: number, c: string) => {
            ctx.beginPath(); ctx.arc(x, y, 6.5, 0, Math.PI * 2); ctx.fillStyle = c; ctx.fill();
          };
          text(ctx, GENOTYPES[0], 1519, 300, 27, true);
          vline(ctx, 1546.7, 280, 325, 2.5);
          dot(1559.5, 293.3, COL_WT_NT);
          dot(1559.5, 315, '#9a9a9a');
          text(ctx, LEGEND_ENTRIES[0], 1574.4, 291.7, LEGEND_PX, false, 'left');
          text(ctx, LEGEND_ENTRIES[1], 1576.6, 313.3, LEGEND_PX, false, 'left');
          text(ctx, GENOTYPES[1], 1522, 360, 27, true, 'center', COL_DS_NT);
          vline(ctx, 1546.7, 338.3, 383.3, 2.5);
          dot(1559.5, 349.3, COL_DS_NT);
          dot(1559.5, 373.3, COL_DS_TAU);
          text(ctx, LEGEND_ENTRIES[0], 1574.4, 348.3, LEGEND_PX, false, 'left');
          text(ctx, LEGEND_ENTRIES[1], 1576.6, 371.7, LEGEND_PX, false, 'left');
          panelLetter(ctx, 'C', 1173, 45);
          ctx.restore();
        },
      },
    ],
  };
}

function makeI(ox: number, oy: number) {
  const g = GEOM_I;
  const { L, T, R, B } = pads(g.canvas, g.plot);
  const [pl, pt, pr, pb] = g.plot;
  const pxX = (pr - pl) / (g.xMax - g.xMin);
  const pxY = (pb - pt) / g.yMax;
  const catPct = 0.866, barPct = 0.886;
  const slot = catPct / 3;
  const pattern = makeDotPattern();
  const fills = ['#ffffff', pattern, INAN_FILL];
  const means = [I_SOCIAL_MEAN, I_CENTER_MEAN, I_INAN_MEAN];
  const sems = [I_SOCIAL_SEM, I_CENTER_SEM, I_INAN_SEM];
  const pts = [I_SOCIAL_PTS, I_CENTER_PTS, I_INAN_PTS];
  const datasets: any[] = means.map((m, k) => ({
    type: 'bar', label: CHAMBERS[k], data: m.map((v, i) => ({ x: g.pos[i], y: v })),
    backgroundColor: fills[k], borderColor: BLK, borderWidth: 2.7, borderSkipped: false,
    categoryPercentage: catPct, barPercentage: barPct, order: 5,
  }));
  pts.forEach((grp, k) => {
    const data: any[] = [];
    grp.forEach((vals, i) => {
      const off = swarm(vals, pxY, 10.5, 14);
      vals.forEach((v, j) => data.push({ x: g.pos[i] + (k - 1) * slot + off[j] / pxX, y: v }));
    });
    datasets.push({ type: 'scatter', data, ...PT, pointRadius: 5.2, radius: 5.2, pointBorderWidth: 2, borderWidth: 2, order: 1 });
  });
  return {
    type: 'bar',
    data: { datasets },
    options: {
      ...BASE_OPTS,
      layout: { padding: { left: 0, top: T, right: R, bottom: 0 } },
      scales: { x: xBare(g.xMin, g.xMax, B), y: yAxis(0, g.yMax, I_TICKS, L) },
    },
    plugins: [
      {
        id: 'annI',
        afterDatasetsDraw(chart: any) {
          for (let k = 0; k < 3; k++) errBars(chart, k, means[k], sems[k], chart.scales.y, 13, 2.5);
        },
        afterDraw(chart: any) {
          const ctx = chart.ctx;
          const bx = [0, 1, 2].map((k) => chart.getDatasetMeta(k).data.map((el: any) => el.x + ox));
          const ys = chart.scales.y;
          ctx.save();
          ctx.translate(-ox, -oy);
          I_SIG.forEach(([g1, c1, g2, c2, yv, st]: any) => {
            sigLine(ctx, bx[c1][g1], bx[c2][g2], ys.getPixelForValue(yv) + oy, st);
          });
          const axisY = chart.chartArea.bottom + oy;
          const ext = 17.3;
          drawAsoRow(ctx, chart.chartArea.left + ox, axisY, bx[1],
            [[bx[0][0] - ext, bx[2][1] + ext], [bx[0][2] - ext, bx[2][3] + ext]],
            { aso: 18, line: 35, grp: 55 });
          // legend
          text(ctx, 'Chamber:', 621.7, 1122.3, LEGEND_PX, false, 'left');
          const boxes = [[735, 760], [840, 863.3], [948.3, 974.6]];
          boxes.forEach(([bxp, tx], k) => {
            ctx.fillStyle = fills[k];
            ctx.fillRect(bxp, 1112, 19, 19);
            ctx.strokeStyle = BLK; ctx.lineWidth = 2.5; ctx.setLineDash([]);
            ctx.strokeRect(bxp, 1112, 19, 19);
            text(ctx, CHAMBERS[k], tx, 1122.3, LEGEND_PX, false, 'left');
          });
          rich(ctx, [['Chamber Time', true], ['(s)', false]], 530.8, 1290, TITLE_PX, true);
          panelLetter(ctx, 'I', 513, 1093);
          ctx.restore();
        },
      },
    ],
  };
}

const PANELS: any[] = [
  { key: 'A', canvas: GEOM_A.canvas, build: makeA },
  { key: 'B', canvas: BAR_PANELS.B.canvas, build: (ox: number, oy: number) => makeBarChart(BAR_PANELS.B, ox, oy) },
  { key: 'C', canvas: GEOM_C.canvas, build: makeC },
  { key: 'D', canvas: BAR_PANELS.D.canvas, build: (ox: number, oy: number) => makeBarChart(BAR_PANELS.D, ox, oy) },
  { key: 'E', canvas: BAR_PANELS.E.canvas, build: (ox: number, oy: number) => makeBarChart(BAR_PANELS.E, ox, oy) },
  { key: 'F', canvas: BAR_PANELS.F.canvas, build: (ox: number, oy: number) => makeBarChart(BAR_PANELS.F, ox, oy) },
  { key: 'G', canvas: BAR_PANELS.G.canvas, build: (ox: number, oy: number) => makeBarChart(BAR_PANELS.G, ox, oy) },
  { key: 'H', canvas: BAR_PANELS.H.canvas, build: (ox: number, oy: number) => makeBarChart(BAR_PANELS.H, ox, oy) },
  { key: 'I', canvas: GEOM_I.canvas, build: makeI },
  { key: 'J', canvas: BAR_PANELS.J.canvas, build: (ox: number, oy: number) => makeBarChart(BAR_PANELS.J, ox, oy) },
];

export default function App() {
  const refs = useRef<(HTMLCanvasElement | null)[]>([]);
  useEffect(() => {
    const charts: any[] = [];
    PANELS.forEach((p, i) => {
      const el = refs.current[i];
      if (!el) return;
      const [l, t] = p.canvas;
      charts.push(new Chart(el, p.build(l, t)));
    });
    return () => charts.forEach((c) => c.destroy());
  }, []);
  return (
    <div style={{ position: 'absolute', left: 0, top: 0, width: 1800, height: 1528, background: '#ffffff', overflow: 'hidden' }}>
      {PANELS.map((p, i) => {
        const [l, t, r, b] = p.canvas;
        return (
          <canvas
            key={p.key}
            ref={(el) => { refs.current[i] = el; }}
            width={r - l}
            height={b - t}
            style={{ position: 'absolute', left: l, top: t, width: r - l, height: b - t }}
          />
        );
      })}
    </div>
  );
}
